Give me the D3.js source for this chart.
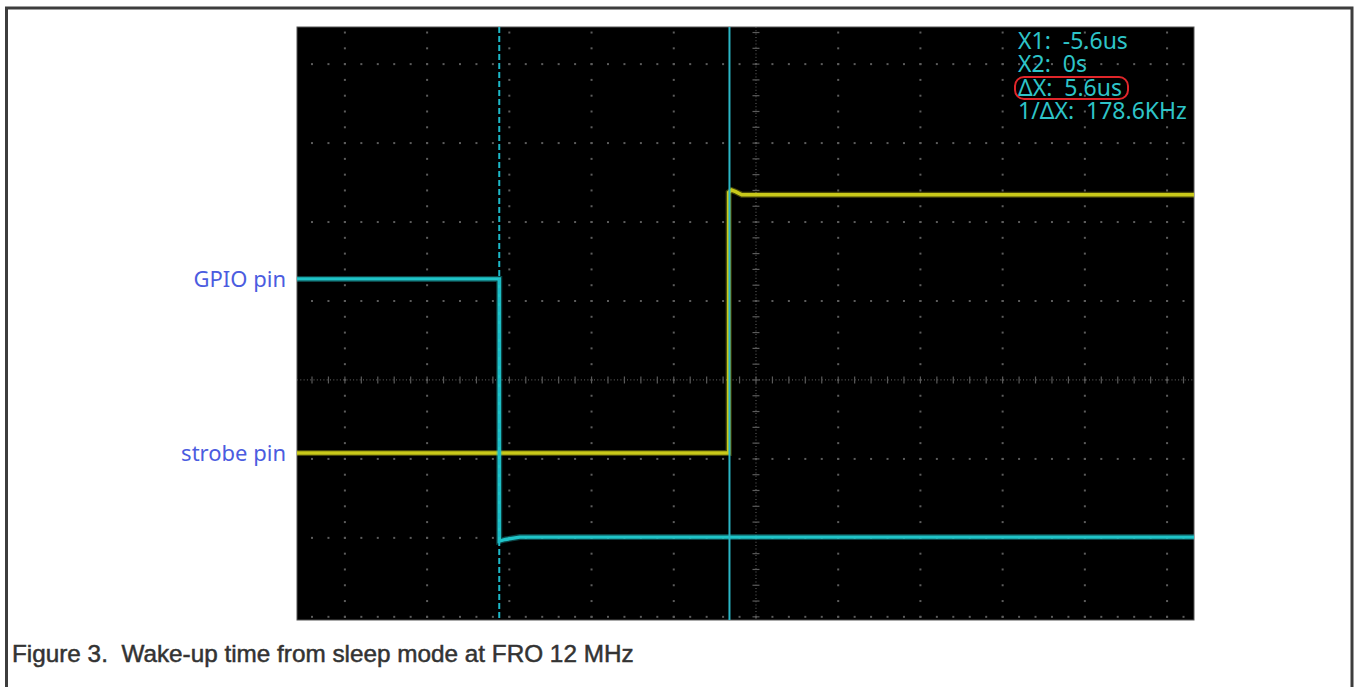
<!DOCTYPE html>
<html><head><meta charset="utf-8">
<script src="https://cdn.jsdelivr.net/npm/d3@7"></script>
<style>html,body{margin:0;padding:0;background:#fff;}svg{display:block}</style>
</head><body>
<script>
// ---------- data ----------
const timeDomain = [-10.52, 11.30];        // us, relative to cursor X2
const divDomain = [-3.04, 4.47];           // vertical divisions
const timePerDiv = 2;                      // us/div
const gridCenterTime = 0.645;              // us at screen centre
const voltsPerDiv = 1;
const gpioOffsetDiv = -1.99;
const strobeOffsetDiv = -0.925;
// [time us, volts]
const gpioTrace = [[-10.52,3.27],[-5.6,3.27],[-5.6,-0.05],[-5.45,-0.03],[-5.1,0],[11.30,0]];
const strobeTrace = [[-10.52,0],[-0.02,0],[-0.02,3.3],[0.05,3.33],[0.15,3.31],[0.3,3.27],[11.30,3.27]];
const cursorX1 = -5.6, cursorX2 = 0;
const cursorLabels = ["X1:  -5.6us","X2:  0s","ΔX:  5.6us","1/ΔX:  178.6KHz"];
const channelLabels = [{name:"GPIO pin", level:3.27, offset:gpioOffsetDiv},{name:"strobe pin", level:0, offset:strobeOffsetDiv}];
const caption = "Figure 3.  Wake-up time from sleep mode at FRO 12 MHz";

// ---------- layout ----------
const W = 1354, H = 687;
const plot = {x0:297, x1:1194, y0:27, y1:620};
const svg = d3.select("body").append("svg").attr("width",W).attr("height",H);
svg.append("rect").attr("width",W).attr("height",H).attr("fill","#fff");

const x = d3.scaleLinear().domain(timeDomain).range([plot.x0, plot.x1]);
const y = d3.scaleLinear().domain(divDomain).range([plot.y1, plot.y0]);

// outer frame
svg.append("path").attr("d",`M6.5,${H} V8 H1352 V${H}`).attr("fill","none")
  .attr("stroke","#3d3d3d").attr("stroke-width",3);

// scope screen
svg.append("rect").attr("x",plot.x0).attr("y",plot.y0).attr("width",plot.x1-plot.x0).attr("height",plot.y1-plot.y0)
  .attr("fill","#000").attr("stroke","#555").attr("stroke-width",1);

const g = svg.append("g");
const dotColor = "#5c5c5c";
const majorT = d3.range(-5,6).map(k=>gridCenterTime + k*timePerDiv).filter(t=>t>=timeDomain[0]&&t<=timeDomain[1]);
const majorD = d3.range(-3,5);
const minorT = d3.range(-30,30).map(k=>gridCenterTime + k*timePerDiv/5).filter(t=>t>timeDomain[0]&&t<timeDomain[1]);
const minorD = d3.range(-16,23).map(k=>k*0.2).filter(d=>d>divDomain[0]&&d<divDomain[1]);

majorD.filter(d=>d!==0).forEach(d=>{
  g.selectAll(null).data(minorT).enter().append("rect")
   .attr("x",t=>x(t)-1).attr("y",y(d)-1).attr("width",2).attr("height",2).attr("fill",dotColor);
});
majorT.filter(t=>Math.abs(t-gridCenterTime)>1e-6).forEach(t=>{
  g.selectAll(null).data(minorD).enter().append("rect")
   .attr("x",x(t)-1).attr("y",d=>y(d)-1).attr("width",2).attr("height",2).attr("fill",dotColor);
});
const cx = x(gridCenterTime), cy = y(0);
g.append("line").attr("x1",plot.x0).attr("x2",plot.x1).attr("y1",cy).attr("y2",cy)
  .attr("stroke","#555").attr("stroke-width",1.2).attr("stroke-dasharray","1,2.3");
g.append("line").attr("y1",plot.y0).attr("y2",plot.y1).attr("x1",cx).attr("x2",cx)
  .attr("stroke","#555").attr("stroke-width",1.2).attr("stroke-dasharray","1,2.3");
g.selectAll(null).data(minorT).enter().append("line")
  .attr("x1",t=>x(t)).attr("x2",t=>x(t)).attr("y1",cy-3.5).attr("y2",cy+3.5).attr("stroke","#5a5a5a").attr("stroke-width",1.2);
g.selectAll(null).data(minorD).enter().append("line")
  .attr("y1",d=>y(d)).attr("y2",d=>y(d)).attr("x1",cx-3.5).attr("x2",cx+3.5).attr("stroke","#5a5a5a").attr("stroke-width",1.2);

// traces
const line = off => d3.line().x(p=>x(p[0])).y(p=>y(off + p[1]/voltsPerDiv));
function drawTrace(data, off, color){
  g.append("path").attr("d",line(off)(data)).attr("fill","none").attr("stroke",color)
   .attr("stroke-width",6).attr("stroke-opacity",0.35);
  g.append("path").attr("d",line(off)(data)).attr("fill","none").attr("stroke",color)
   .attr("stroke-width",3.4);
}
drawTrace(strobeTrace, strobeOffsetDiv, "#c9c91a");
drawTrace(gpioTrace, gpioOffsetDiv, "#1fc4c8");

// cursors
g.append("line").attr("x1",x(cursorX1)).attr("x2",x(cursorX1)).attr("y1",plot.y0).attr("y2",plot.y1)
  .attr("stroke","#1db8c8").attr("stroke-width",2).attr("stroke-dasharray","6,3");
g.append("line").attr("x1",x(cursorX2)).attr("x2",x(cursorX2)).attr("y1",plot.y0).attr("y2",plot.y1)
  .attr("stroke","#2bb6c6").attr("stroke-width",2);

// cursor readout
const rd = g.selectAll(null).data(cursorLabels).enter().append("text")
  .attr("x",1018).attr("y",(d,i)=>49+i*23.4)
  .attr("fill","#2ec4c8").attr("font-family","Noto Sans, sans-serif").attr("font-size",23)
  .style("white-space","pre").text(d=>d);
const bb = rd.nodes()[2].getBBox();
g.append("rect").attr("x",1015).attr("y",77).attr("width",bb.width+9).attr("height",22).attr("rx",9)
  .attr("fill","none").attr("stroke","#e0262a").attr("stroke-width",2);

// channel labels
svg.selectAll(null).data(channelLabels).enter().append("text")
  .attr("x",286).attr("y",d=>y(d.offset + d.level/voltsPerDiv)+8)
  .attr("text-anchor","end").attr("fill","#4b5ce0")
  .attr("font-family","Noto Sans, sans-serif").attr("font-size",22).text(d=>d.name);

// caption
svg.append("text").attr("x",12).attr("y",662).attr("fill","#333")
  .attr("stroke","#333").attr("stroke-width",0.5)
  .attr("font-family","Liberation Sans, Arial, sans-serif").attr("font-size",24.3)
  .style("white-space","pre").text(caption);
</script></body></html>
